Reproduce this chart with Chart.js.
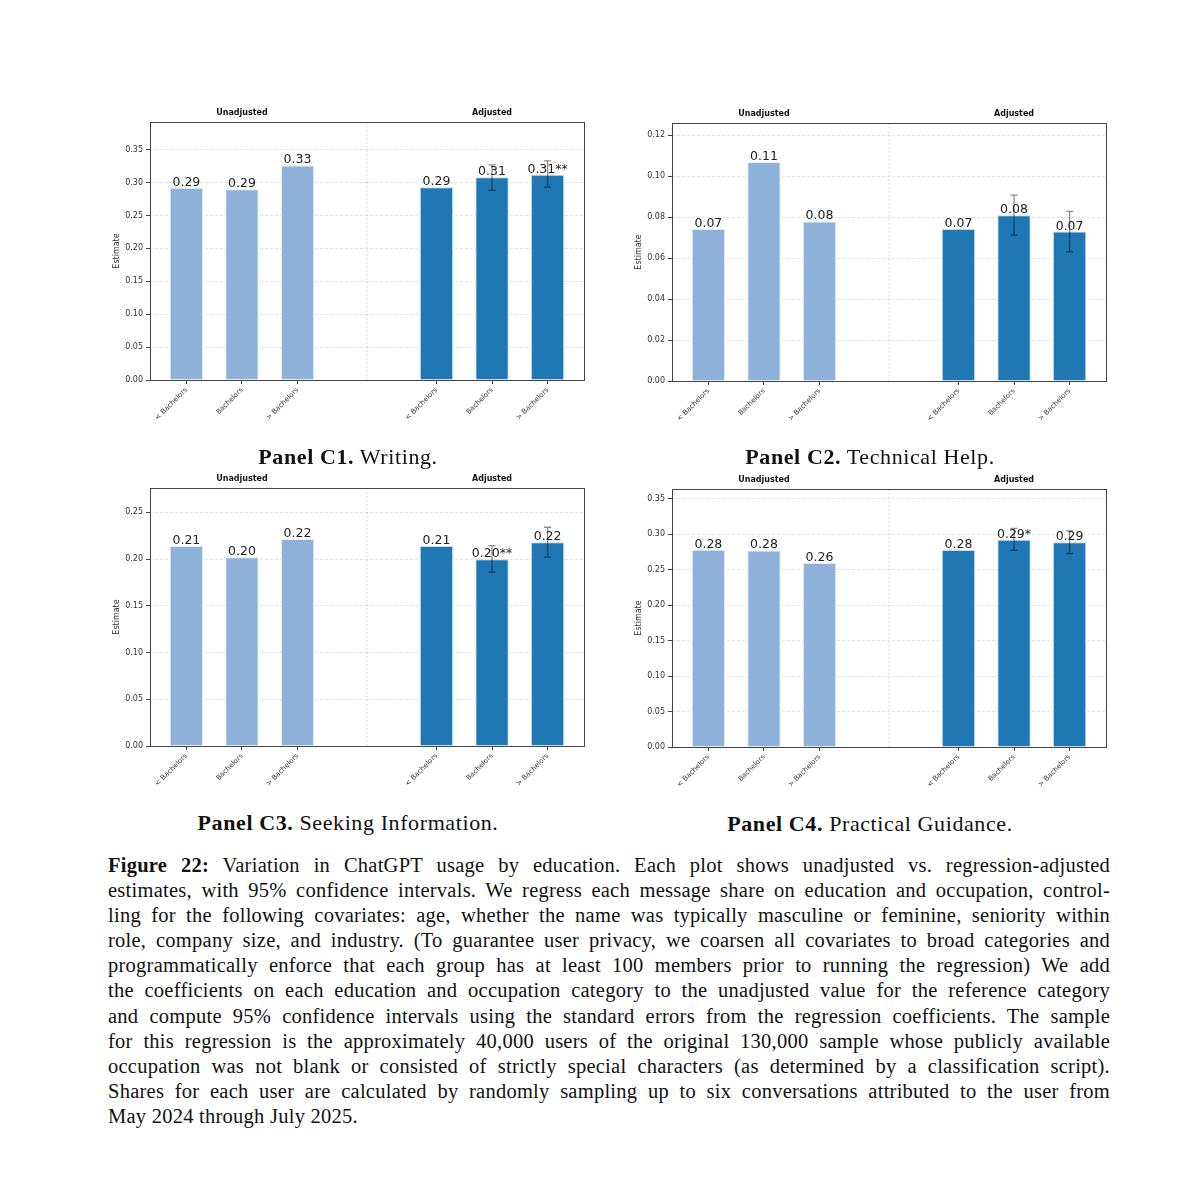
<!DOCTYPE html>
<html>
<head>
<meta charset="utf-8">
<script src="https://cdn.jsdelivr.net/npm/chart.js@4.4.1/dist/chart.umd.min.js"></script>
<style>
  body { margin: 0; background: #fff; width: 1200px; height: 1197px; position: relative; overflow: hidden; }
  canvas { position: absolute; }
  .cap { position: absolute; width: 500px; text-align: center; font-family: "Liberation Serif", serif; font-size: 22px; letter-spacing: 0.6px; color: #111; }
  #fig { position: absolute; left: 108px; top: 853px; width: 1002px; font-family: "Liberation Serif", serif; font-size: 20.5px; letter-spacing: 0.25px; line-height: 25.1px; color: #111; }
  #fig div { white-space: nowrap; text-align: justify; text-align-last: justify; }
  #fig div.last { text-align-last: left; }
</style>
</head>
<body>
<canvas id="c1" width="500" height="330" style="left:100px;top:100px"></canvas>
<canvas id="c2" width="500" height="330" style="left:622px;top:101px"></canvas>
<canvas id="c3" width="500" height="330" style="left:100px;top:466px"></canvas>
<canvas id="c4" width="500" height="330" style="left:622px;top:467px"></canvas>

<div class="cap" style="left:98px;top:444px"><b>Panel C1.</b> Writing.</div>
<div class="cap" style="left:620px;top:444px"><b>Panel C2.</b> Technical Help.</div>
<div class="cap" style="left:98px;top:810px"><b>Panel C3.</b> Seeking Information.</div>
<div class="cap" style="left:620px;top:811px"><b>Panel C4.</b> Practical Guidance.</div>

<div id="fig">
  <div><b>Figure 22:</b> Variation in ChatGPT usage by education. Each plot shows unadjusted vs. regression-adjusted</div>
  <div>estimates, with 95% confidence intervals. We regress each message share on education and occupation, control-</div>
  <div>ling for the following covariates: age, whether the name was typically masculine or feminine, seniority within</div>
  <div>role, company size, and industry. (To guarantee user privacy, we coarsen all covariates to broad categories and</div>
  <div>programmatically enforce that each group has at least 100 members prior to running the regression) We add</div>
  <div>the coefficients on each education and occupation category to the unadjusted value for the reference category</div>
  <div>and compute 95% confidence intervals using the standard errors from the regression coefficients. The sample</div>
  <div>for this regression is the approximately 40,000 users of the original 130,000 sample whose publicly available</div>
  <div>occupation was not blank or consisted of strictly special characters (as determined by a classification script).</div>
  <div>Shares for each user are calculated by randomly sampling up to six conversations attributed to the user from</div>
  <div class="last">May 2024 through July 2025.</div>
</div>

<script>
const educationLevels = ['< Bachelors', 'Bachelors', '> Bachelors'];
const groupTitles = ['Unadjusted', 'Adjusted'];

// Panel C1 - Writing
const writingUnadj = [0.292, 0.290, 0.326];
const writingAdj = [0.293, 0.308, 0.312];
const writingLow = [null, 0.288, 0.293];
const writingHigh = [null, 0.327, 0.333];
const writingStars = ['', '', '**'];
const writingTicks = [0, 0.05, 0.10, 0.15, 0.20, 0.25, 0.30, 0.35];

// Panel C2 - Technical Help
const techUnadj = [0.0742, 0.1069, 0.0779];
const techAdj = [0.0742, 0.0810, 0.0730];
const techLow = [null, 0.0712, 0.0631];
const techHigh = [null, 0.0908, 0.0828];
const techStars = ['', '', ''];
const techTicks = [0, 0.02, 0.04, 0.06, 0.08, 0.10, 0.12];

// Panel C3 - Seeking Information
const infoUnadj = [0.214, 0.202, 0.2215];
const infoAdj = [0.214, 0.1997, 0.218];
const infoLow = [null, 0.186, 0.202];
const infoHigh = [null, 0.2143, 0.234];
const infoStars = ['', '**', ''];
const infoTicks = [0, 0.05, 0.10, 0.15, 0.20, 0.25];

// Panel C4 - Practical Guidance
const guideUnadj = [0.2783, 0.2774, 0.2596];
const guideAdj = [0.278, 0.2924, 0.2887];
const guideLow = [null, 0.2774, 0.273];
const guideHigh = [null, 0.3084, 0.305];
const guideStars = ['', '*', ''];
const guideTicks = [0, 0.05, 0.10, 0.15, 0.20, 0.25, 0.30, 0.35];

const adjOffset = 4.5;   // adjusted group sits to the right of the unadjusted one
const dividerAt = 3.25;

Chart.defaults.font.family = 'DejaVu Sans';
Chart.defaults.color = '#333';

const panelDecor = {
  id: 'panelDecor',
  beforeDatasetsDraw(chart) {
    const { ctx, chartArea, scales: { x } } = chart;
    const px = x.getPixelForValue(dividerAt);
    ctx.save();
    ctx.strokeStyle = 'rgba(128,128,128,0.35)';
    ctx.lineWidth = 1;
    ctx.setLineDash([1.5, 2.5]);
    ctx.beginPath();
    ctx.moveTo(px, chartArea.top);
    ctx.lineTo(px, chartArea.bottom);
    ctx.stroke();
    ctx.restore();
  },
  afterDatasetsDraw(chart, args, opts) {
    const { ctx, chartArea, scales: { x, y } } = chart;
    ctx.save();
    // error bars on the adjusted bars
    const adjMeta = chart.getDatasetMeta(1);
    ctx.strokeStyle = 'rgba(0,0,0,0.45)';
    ctx.lineWidth = 1.3;
    opts.low.forEach((lo, i) => {
      if (lo == null) return;
      const bx = adjMeta.data[i].x;
      const yl = y.getPixelForValue(lo);
      const yh = y.getPixelForValue(opts.high[i]);
      ctx.beginPath();
      ctx.moveTo(bx, yl); ctx.lineTo(bx, yh);
      ctx.moveTo(bx - 3.5, yl); ctx.lineTo(bx + 3.5, yl);
      ctx.moveTo(bx - 3.5, yh); ctx.lineTo(bx + 3.5, yh);
      ctx.stroke();
    });
    // value labels
    ctx.fillStyle = '#222';
    ctx.font = '12.5px "DejaVu Sans"';
    ctx.textAlign = 'center';
    ctx.textBaseline = 'alphabetic';
    chart.data.datasets.forEach((ds, d) => {
      chart.getDatasetMeta(d).data.forEach((bar, i) => {
        const txt = ds.data[i].y.toFixed(2) + (d === 1 ? opts.stars[i] : '');
        ctx.fillText(txt, bar.x, bar.y - 2);
      });
    });
    // group titles
    ctx.font = 'bold 8px "DejaVu Sans"';
    ctx.fillStyle = '#111';
    ctx.textBaseline = 'middle';
    chart.data.datasets.forEach((ds, d) => {
      const xs = ds.data.map(p => p.x);
      const mid = (xs[0] + xs[xs.length - 1]) / 2;
      ctx.fillText(groupTitles[d], x.getPixelForValue(mid), chartArea.top - 9);
    });
    ctx.restore();
  },
  afterDraw(chart) {
    const { ctx, chartArea } = chart;
    ctx.save();
    ctx.strokeStyle = '#444';
    ctx.lineWidth = 1;
    ctx.strokeRect(Math.round(chartArea.left) + 0.5, Math.round(chartArea.top) + 0.5,
      Math.round(chartArea.right - chartArea.left), Math.round(chartArea.bottom - chartArea.top));
    ctx.restore();
  }
};

function makePanel(id, unadj, adj, low, high, stars, yTicks, yMax) {
  const positions = educationLevels.map((_, i) => i).concat(educationLevels.map((_, i) => i + adjOffset));
  new Chart(document.getElementById(id), {
    type: 'bar',
    data: {
      datasets: [
        {
          label: groupTitles[0],
          data: unadj.map((v, i) => ({ x: i, y: v })),
          backgroundColor: '#8db1d9',
          borderColor: 'rgba(225,236,247,0.9)',
          borderWidth: 1,
          grouped: false,
          barPercentage: 0.6,
          categoryPercentage: 1
        },
        {
          label: groupTitles[1],
          data: adj.map((v, i) => ({ x: i + adjOffset, y: v })),
          backgroundColor: '#1f77b4',
          borderColor: 'rgba(190,215,238,0.9)',
          borderWidth: 1,
          grouped: false,
          barPercentage: 0.6,
          categoryPercentage: 1
        }
      ]
    },
    options: {
      responsive: false,
      animation: false,
      layout: { padding: { top: 22, right: 16, left: 0, bottom: 0 } },
      plugins: {
        legend: { display: false },
        tooltip: { enabled: false },
        panelDecor: { low, high, stars }
      },
      scales: {
        x: {
          type: 'linear',
          min: -0.655,
          max: 7.155,
          offset: false,
          afterBuildTicks: s => { s.ticks = positions.map(v => ({ value: v })); },
          afterFit: s => { s.height = 50; },
          ticks: {
            autoSkip: false,
            minRotation: 45,
            maxRotation: 45,
            padding: 2,
            font: { size: 7 },
            color: '#333',
            callback: v => {
              const k = positions.indexOf(v);
              return educationLevels[k % educationLevels.length];
            }
          },
          grid: { offset: false, color: 'rgba(0,0,0,0)', tickColor: '#444', tickLength: 4 },
          border: { display: false }
        },
        y: {
          min: 0,
          max: yMax,
          afterBuildTicks: s => { s.ticks = yTicks.map(v => ({ value: v })); },
          afterFit: s => { s.width = 50; },
          ticks: { font: { size: 8 }, color: '#333', padding: 3, callback: v => v.toFixed(2) },
          grid: { color: '#e3e3e3', tickColor: '#444', tickLength: 4 },
          border: { display: false, dash: [3, 2] },
          title: { display: true, text: 'Estimate', font: { size: 8 }, color: '#333', padding: { top: 12, bottom: 0 } }
        }
      }
    },
    plugins: [panelDecor]
  });
}

makePanel('c1', writingUnadj, writingAdj, writingLow, writingHigh, writingStars, writingTicks, 0.392);
makePanel('c2', techUnadj, techAdj, techLow, techHigh, techStars, techTicks, 0.126);
makePanel('c3', infoUnadj, infoAdj, infoLow, infoHigh, infoStars, infoTicks, 0.276);
makePanel('c4', guideUnadj, guideAdj, guideLow, guideHigh, guideStars, guideTicks, 0.364);
</script>
</body>
</html>
